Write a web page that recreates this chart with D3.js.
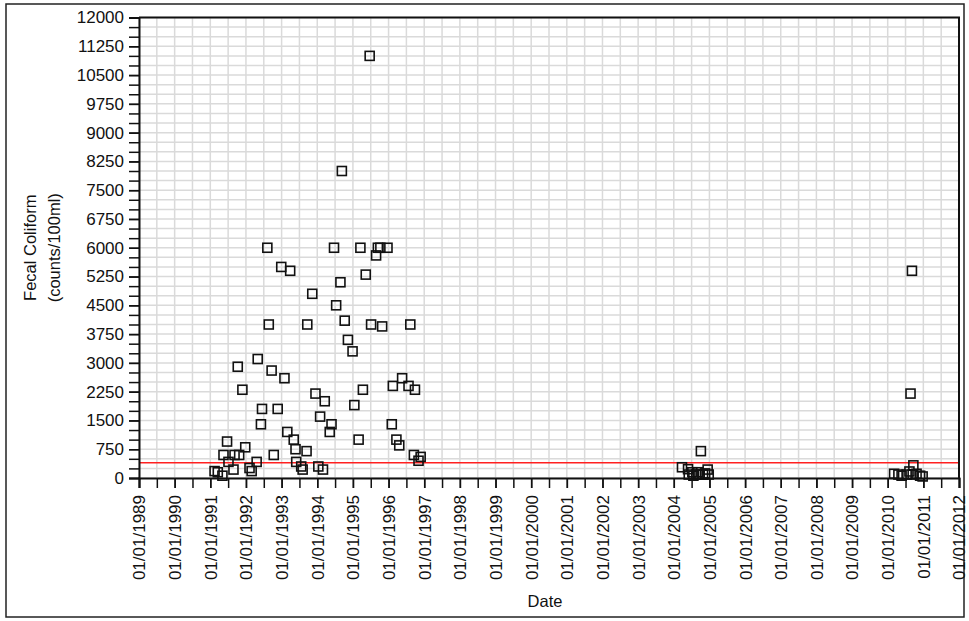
<!DOCTYPE html>
<html>
<head>
<meta charset="utf-8">
<script src="https://cdn.jsdelivr.net/npm/d3@7"></script>
<style>
  body { margin: 0; background: #fff; }
  text { font-family: Arial, "Liberation Sans", sans-serif; }
</style>
</head>
<body>
<svg width="969" height="621"></svg>
<script>
// sample dates (decimal years) and fecal coliform counts
const sampleYear = [
  1991.12, 1991.21, 1991.34, 1991.37, 1991.47, 1991.51, 1991.65, 1991.68, 1991.77, 1991.81,
  1991.90, 1991.98, 1992.10, 1992.16, 1992.30, 1992.33, 1992.42, 1992.45, 1992.60, 1992.64,
  1992.72, 1992.78, 1992.89, 1992.99, 1993.08, 1993.16, 1993.24, 1993.34, 1993.39, 1993.41,
  1993.55, 1993.59, 1993.70, 1993.72, 1993.86, 1993.95, 1994.03, 1994.08, 1994.16, 1994.21,
  1994.35, 1994.40, 1994.47, 1994.53, 1994.65, 1994.69, 1994.77, 1994.86, 1994.99, 1995.04,
  1995.16, 1995.21, 1995.28, 1995.36, 1995.47, 1995.51, 1995.65, 1995.70, 1995.77, 1995.82,
  1995.97, 1996.09, 1996.12, 1996.22, 1996.30, 1996.38, 1996.56, 1996.61, 1996.71, 1996.74,
  1996.84, 1996.90,
  2004.23, 2004.40, 2004.42, 2004.52, 2004.55, 2004.63, 2004.68, 2004.72, 2004.76, 2004.82,
  2004.88, 2004.95, 2004.98,
  2010.18, 2010.30, 2010.39, 2010.53, 2010.61, 2010.64, 2010.68, 2010.70, 2010.72, 2010.81,
  2010.91, 2010.98
];
const fecalCount = [
  180, 150, 60, 600, 950, 420, 220, 600, 2900, 600,
  2300, 800, 260, 180, 420, 3100, 1400, 1800, 6000, 4000,
  2800, 600, 1800, 5500, 2600, 1200, 5400, 1000, 750, 420,
  300, 220, 700, 4000, 4800, 2200, 300, 1600, 220, 2000,
  1200, 1400, 6000, 4500, 5100, 8000, 4100, 3600, 3300, 1900,
  1000, 6000, 2300, 5300, 11000, 4000, 5800, 6000, 6000, 3950,
  6000, 1400, 2400, 1000, 850, 2600, 2400, 4000, 600, 2300,
  450, 550,
  280, 230, 90, 150, 60, 90, 150, 90, 700, 90,
  120, 220, 90,
  110, 90, 60, 90, 170, 2200, 5400, 90, 330, 110,
  60, 40
];
const yTickValues = d3.range(0, 12001, 750);
const xTickYears = d3.range(1989, 2013, 1);
const limitValue = 400;

const svg = d3.select('svg');
const width = 969, height = 621;
const margin = {top: 17.5, right: 10, bottom: 143, left: 139};
const plotW = 959 - margin.left, plotH = 478 - margin.top;

// outer frame
svg.append("rect")
    .attr("x", 6).attr("y", 4)
    .attr("width", 958).attr("height", 613)
    .attr("fill", "none")
    .attr("stroke", "#222")
    .attr("stroke-width", 1.5);

const x = d3.scaleLinear().domain([1989, 2012]).range([0, plotW]);
const y = d3.scaleLinear().domain([0, 12000]).range([plotH, 0]);

const g = svg.append("g")
    .attr("transform", `translate(${margin.left}, ${margin.top})`);

// grid
g.append("g").selectAll("line")
    .data(d3.range(0, 12001, 250))
    .join("line")
    .attr("x1", 0).attr("x2", plotW)
    .attr("y1", d => y(d)).attr("y2", d => y(d))
    .attr("stroke", "#dadada").attr("stroke-width", 1.5);

g.append("g").selectAll("line")
    .data(d3.range(1989, 2012.01, 0.5))
    .join("line")
    .attr("y1", 0).attr("y2", plotH)
    .attr("x1", d => x(d)).attr("x2", d => x(d))
    .attr("stroke", "#dadada").attr("stroke-width", 1.5);

// limit line
g.append("line")
    .attr("x1", 0).attr("x2", plotW)
    .attr("y1", y(limitValue)).attr("y2", y(limitValue))
    .attr("stroke", "#ff2020").attr("stroke-width", 1.5);

// y axis: minor ticks every 250, labels every 750
const yAxis = g.append("g")
    .call(d3.axisLeft(y).tickValues(d3.range(0, 12001, 250)).tickSize(10).tickFormat(""));
const yLabels = g.append("g")
    .call(d3.axisLeft(y).tickValues(yTickValues).tickSize(10).tickPadding(5).tickFormat(d3.format("d")));
yLabels.select(".domain").remove();

// x axis: ticks every half year, labels on 01/01
const xAxis = g.append("g")
    .attr("transform", `translate(0, ${plotH})`)
    .call(d3.axisBottom(x).tickValues(d3.range(1989, 2012.01, 0.5)).tickSize(10).tickFormat(""));
const xLabels = g.append("g")
    .attr("transform", `translate(0, ${plotH})`)
    .call(d3.axisBottom(x).tickValues(xTickYears).tickSize(10).tickFormat(d => "01/01/" + d));
xLabels.select(".domain").remove();
xLabels.selectAll("text")
    .attr("transform", "rotate(-90)")
    .attr("text-anchor", "end")
    .attr("x", -17)
    .attr("y", 0)
    .attr("dy", "0.35em");

[yAxis, yLabels, xAxis, xLabels].forEach(a => {
  a.selectAll("line").attr("stroke", "#111").attr("stroke-width", 1.5);
  a.select(".domain").attr("stroke", "#111").attr("stroke-width", 2);
  a.selectAll("text").attr("font-size", "17px").attr("fill", "#111")
      .attr("font-family", "Arial, 'Liberation Sans', sans-serif");
});

// top and right border of plot
g.append("path")
    .attr("d", `M0,0H${plotW}V${plotH}`)
    .attr("fill", "none").attr("stroke", "#111").attr("stroke-width", 2);

// points
const pts = sampleYear.map((d, i) => ({yr: d, v: fecalCount[i]}));
g.append("g").selectAll("rect")
    .data(pts)
    .join("rect")
    .attr("x", d => x(d.yr) - 4.5)
    .attr("y", d => y(d.v) - 4.5)
    .attr("width", 9).attr("height", 9)
    .attr("fill", "none")
    .attr("stroke", "#111")
    .attr("stroke-width", 1.6);

// axis titles
const yTitle = svg.append("text")
    .attr("transform", `translate(36, ${margin.top + plotH / 2}) rotate(-90)`)
    .attr("text-anchor", "middle")
    .attr("font-size", "16.5px")
    .attr("fill", "#111");
yTitle.append("tspan").attr("x", 0).attr("dy", 0).text("Fecal Coliform");
yTitle.append("tspan").attr("x", 0).attr("dy", "1.45em").text("(counts/100ml)");

svg.append("text")
    .attr("x", 545)
    .attr("y", 607)
    .attr("text-anchor", "middle")
    .attr("font-size", "16.5px")
    .attr("fill", "#111")
    .text("Date");
</script>
</body>
</html>
